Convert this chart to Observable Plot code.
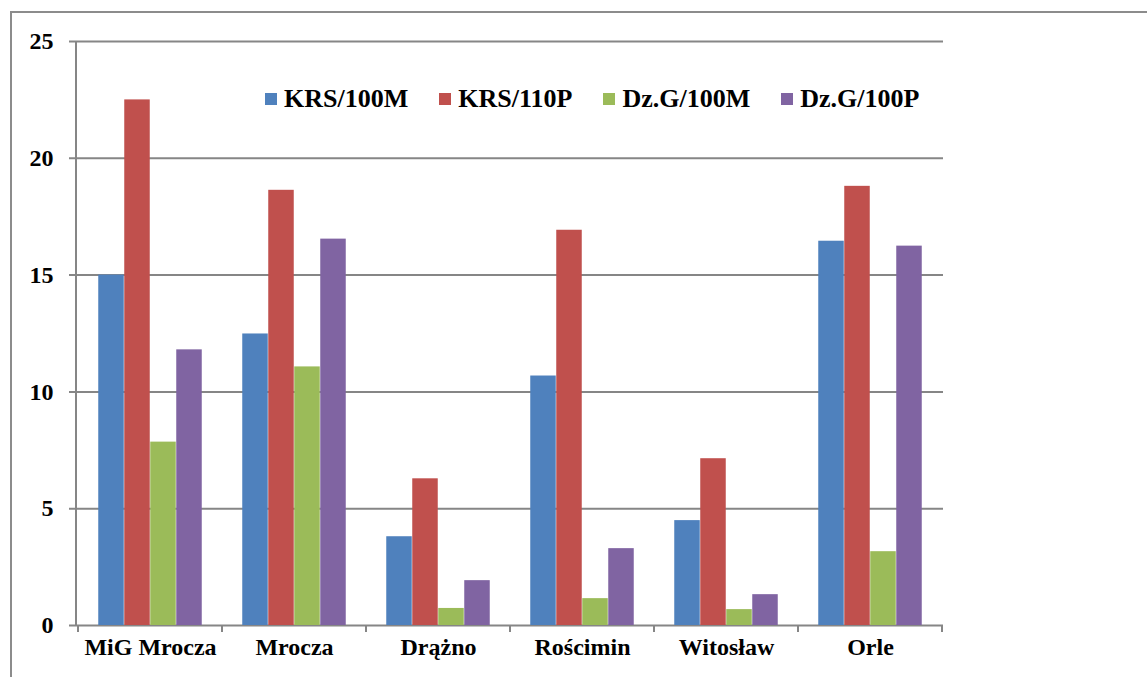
<!DOCTYPE html>
<html>
<head>
<meta charset="utf-8">
<script src="https://cdn.jsdelivr.net/npm/d3@7"></script>
<script src="https://cdn.jsdelivr.net/npm/@observablehq/plot@0.6"></script>
<style>
  html, body { margin: 0; padding: 0; background: #fff; overflow: hidden; }
  body { width: 1147px; height: 677px; position: relative; font-family: "Liberation Serif", Tinos, "Times New Roman", "DejaVu Serif", "Noto Serif", serif; }
  #border { position: absolute; left: 10px; top: 11px; width: 1300px; height: 900px; border: 2px solid #8c8c8c; box-sizing: border-box; }
  #chart { position: absolute; left: 0; top: 0; }
  #legend { position: absolute; left: 265px; top: 84px; display: flex; align-items: center; font-weight: bold; font-size: 26px; color: #000; }
  .item { display: flex; align-items: center; margin-right: 31px; }
  .sw { width: 12px; height: 12px; margin-right: 7px; }
  svg text { font-family: "Liberation Serif", Tinos, "Times New Roman", "DejaVu Serif", "Noto Serif", serif; }
</style>
</head>
<body>
<div id="border"></div>
<div id="chart"></div>
<div id="legend"></div>
<script>
const categories = ["MiG Mrocza", "Mrocza", "Drążno", "Rościmin", "Witosław", "Orle"];
const seriesNames = ["KRS/100M", "KRS/110P", "Dz.G/100M", "Dz.G/100P"];
const seriesColors = ["#4F81BD", "#C0504D", "#9BBB59", "#8064A2"];
const krs100M = [15.0, 12.48, 3.8, 10.68, 4.49, 16.45];
const krs110P = [22.5, 18.63, 6.28, 16.92, 7.14, 18.8];
const dzg100M = [7.85, 11.07, 0.73, 1.15, 0.68, 3.16];
const dzg100P = [11.8, 16.54, 1.92, 3.29, 1.32, 16.24];
const yTicks = [0, 5, 10, 15, 20, 25];

const seriesValues = [krs100M, krs110P, dzg100M, dzg100P];
const rows = [];
seriesNames.forEach((s, i) => categories.forEach((c, j) => rows.push({series: s, cat: c, value: seriesValues[i][j]})));

const W = 1147, H = 677;
const mL = 76, mR = 204, mT = 41, mB = 52;
const step = (W - mL - mR) / categories.length;
const barW = 26;
const groupPad = (step - barW * seriesNames.length) / 2;

const axisColor = "#868686";
const serif = "'Liberation Serif', Tinos, 'Times New Roman', 'DejaVu Serif', 'Noto Serif', serif";

// boundary ticks on the category axis, derived from the x band scale
function categoryTicks(index, scales, values, dims) {
  const g = d3.create("svg:g").attr("stroke", axisColor).attr("stroke-width", 2);
  const x = scales.x;
  const bw = x.bandwidth ? x.bandwidth() : step;
  const yb = dims.height - dims.marginBottom;
  const edges = categories.map(c => x(c)).concat([x(categories[categories.length - 1]) + bw]);
  edges.forEach(e => g.append("line").attr("x1", e).attr("x2", e).attr("y1", yb).attr("y2", yb + 7));
  g.append("line").attr("x1", dims.marginLeft).attr("x2", dims.marginLeft)
    .attr("y1", dims.marginTop).attr("y2", yb);
  return g.node();
}

const barMarks = seriesNames.map((s, i) => Plot.barY(rows.filter(r => r.series === s), {
  x: "cat", y: "value", fill: seriesColors[i],
  insetLeft: groupPad + barW * i,
  insetRight: step - groupPad - barW * (i + 1)
}));

const plot = Plot.plot({
  width: W, height: H,
  marginLeft: mL, marginRight: mR, marginTop: mT, marginBottom: mB,
  style: {fontFamily: serif, fontSize: "24px", fontWeight: "bold", color: "#000", background: "transparent"},
  x: {domain: categories, padding: 0, label: null},
  y: {domain: [0, 25], label: null},
  marks: [
    Plot.ruleY(yTicks, {y: d => d, stroke: axisColor, strokeWidth: 2, insetLeft: -7}),
    ...barMarks,
    Plot.axisY({ticks: yTicks, tickSize: 0, tickPadding: 23, label: null, fontSize: 24, fontWeight: "bold", fill: "#000"}),
    Plot.axisX({tickSize: 0, tickPadding: 12, label: null, fontSize: 24, fontWeight: "bold", fill: "#000"}),
    categoryTicks
  ]
});
document.getElementById("chart").appendChild(plot);

const legend = document.getElementById("legend");
seriesNames.forEach((s, i) => {
  const item = document.createElement("div");
  item.className = "item";
  const sw = document.createElement("div");
  sw.className = "sw";
  sw.style.background = seriesColors[i];
  const t = document.createElement("span");
  t.textContent = s;
  item.appendChild(sw); item.appendChild(t);
  legend.appendChild(item);
});
</script>
</body>
</html>
